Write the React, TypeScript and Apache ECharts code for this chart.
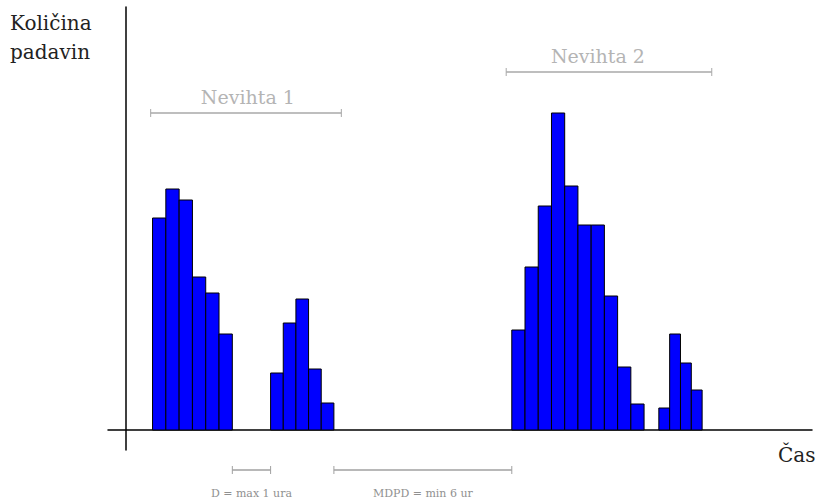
import React, { useEffect, useRef } from "react";
import * as echarts from "echarts";

// Rain-burst groups: start time (h), bar width (h), rainfall amounts per bar
const groupStarts = [2.0, 10.88, 29.02, 40.08];
const groupWidths = [1.0, 0.952, 0.995, 0.814];
const group1 = [21.2, 24.1, 23.0, 15.3, 13.7, 9.6];
const group2 = [5.7, 10.7, 13.1, 6.1, 2.7];
const group3 = [10.0, 16.3, 22.4, 31.7, 24.4, 20.5, 20.5, 13.4, 6.3, 2.6];
const group4 = [2.2, 9.6, 6.7, 4.0];
const groupValues = [group1, group2, group3, group4];

// Storms
const stormNames = ["Nevihta 1", "Nevihta 2"];
const stormStarts = [1.86, 28.6];
const stormEnds = [16.2, 44.06];
const stormLabelAt = [9.17, 35.5];
const stormLevels = [31.7, 35.8];

// Gap annotations (between bursts: [from group end, to group start])
const gapLabels = ["D = max 1 ura", "MDPD = min 6 ur"];
const gapFromGroup = [0, 1];
const gapLevel = -4;

const yTitle = "Količina\npadavin";
const xTitle = "Čas";

const SERIF = "DejaVu Serif";

export default function App() {
  const ref = useRef<HTMLDivElement>(null);
  useEffect(() => {
    if (!ref.current) return;
    const chart = echarts.init(ref.current, undefined, { renderer: "svg" });
    const data: number[][] = [];
    groupValues.forEach((vals, gi) => {
      vals.forEach((v, j) => {
        const s = groupStarts[gi] + j * groupWidths[gi];
        data.push([s, s + groupWidths[gi], v]);
      });
    });
    chart.setOption({
      animation: false,
      grid: { left: 108, top: 7, width: 704, height: 443, containLabel: false },
      xAxis: {
        type: "value",
        min: -1.35,
        max: 51.6,
        axisLine: { show: true, onZero: true, lineStyle: { color: "#000", width: 1.5 } },
        axisTick: { show: false },
        axisLabel: { show: false },
        splitLine: { show: false },
        name: xTitle,
        nameLocation: "end",
        nameGap: -34,
        nameTextStyle: {
          fontFamily: SERIF,
          fontSize: 20,
          color: "#222",
          align: "left",
          verticalAlign: "top",
          padding: [15, 0, 0, 0],
        },
      },
      yAxis: {
        type: "value",
        min: -2,
        max: 42.3,
        axisLine: { show: true, onZero: true, lineStyle: { color: "#000", width: 1.5 } },
        axisTick: { show: false },
        axisLabel: { show: false },
        splitLine: { show: false },
      },
      series: [
        {
          type: "custom",
          encode: { x: [0, 1], y: 2 },
          data,
          renderItem: (params: any, api: any) => {
            const p0 = api.coord([api.value(0), api.value(2)]);
            const p1 = api.coord([api.value(1), 0]);
            return {
              type: "rect",
              shape: { x: p0[0], y: p0[1], width: p1[0] - p0[0], height: p1[1] - p0[1] },
              style: { fill: "#0000ff", stroke: "#000", lineWidth: 1 },
            };
          },
        },
      ],
    });

    const px = (t: number, v: number) => chart.convertToPixel({ gridIndex: 0 }, [t, v]) as number[];
    const bracket = (a: number[], b: number[], color: string) => [
      { type: "line", shape: { x1: a[0], y1: a[1], x2: b[0], y2: b[1] }, style: { stroke: color, lineWidth: 1.5 } },
      { type: "line", shape: { x1: a[0], y1: a[1] - 4, x2: a[0], y2: a[1] + 4 }, style: { stroke: color, lineWidth: 1 } },
      { type: "line", shape: { x1: b[0], y1: b[1] - 4, x2: b[0], y2: b[1] + 4 }, style: { stroke: color, lineWidth: 1 } },
    ];
    const graphics: any[] = [];
    stormNames.forEach((name, i) => {
      const a = px(stormStarts[i], stormLevels[i]);
      const b = px(stormEnds[i], stormLevels[i]);
      graphics.push(...bracket(a, b, "#a8a8a8"));
      const l = px(stormLabelAt[i], stormLevels[i]);
      graphics.push({
        type: "text",
        x: l[0],
        y: l[1] - 16,
        style: {
          text: name,
          fontFamily: SERIF,
          fontSize: 19,
          fill: "#b4b4b4",
          align: "center",
          verticalAlign: "middle",
        },
      });
    });
    gapLabels.forEach((label, i) => {
      const g = gapFromGroup[i];
      const from = groupStarts[g] + groupValues[g].length * groupWidths[g];
      const to = groupStarts[g + 1];
      const a = px(from, gapLevel);
      const b = px(to, gapLevel);
      graphics.push(...bracket(a, b, "#a0a0a0"));
      graphics.push({
        type: "text",
        x: (a[0] + b[0]) / 2,
        y: a[1] + 23,
        style: {
          text: label,
          fontFamily: SERIF,
          fontSize: 11,
          fill: "#909090",
          align: "center",
          verticalAlign: "middle",
        },
      });
    });
    graphics.push({
      type: "text",
      left: 10,
      top: 8,
      style: {
        text: yTitle,
        fontFamily: SERIF,
        fontSize: 20,
        lineHeight: 29,
        fill: "#222",
      },
    });
    chart.setOption({ graphic: graphics });
    return () => chart.dispose();
  }, []);
  return (
    <div
      ref={ref}
      style={{ position: "fixed", left: 0, top: 0, width: 819, height: 504, background: "#fff" }}
    />
  );
}
